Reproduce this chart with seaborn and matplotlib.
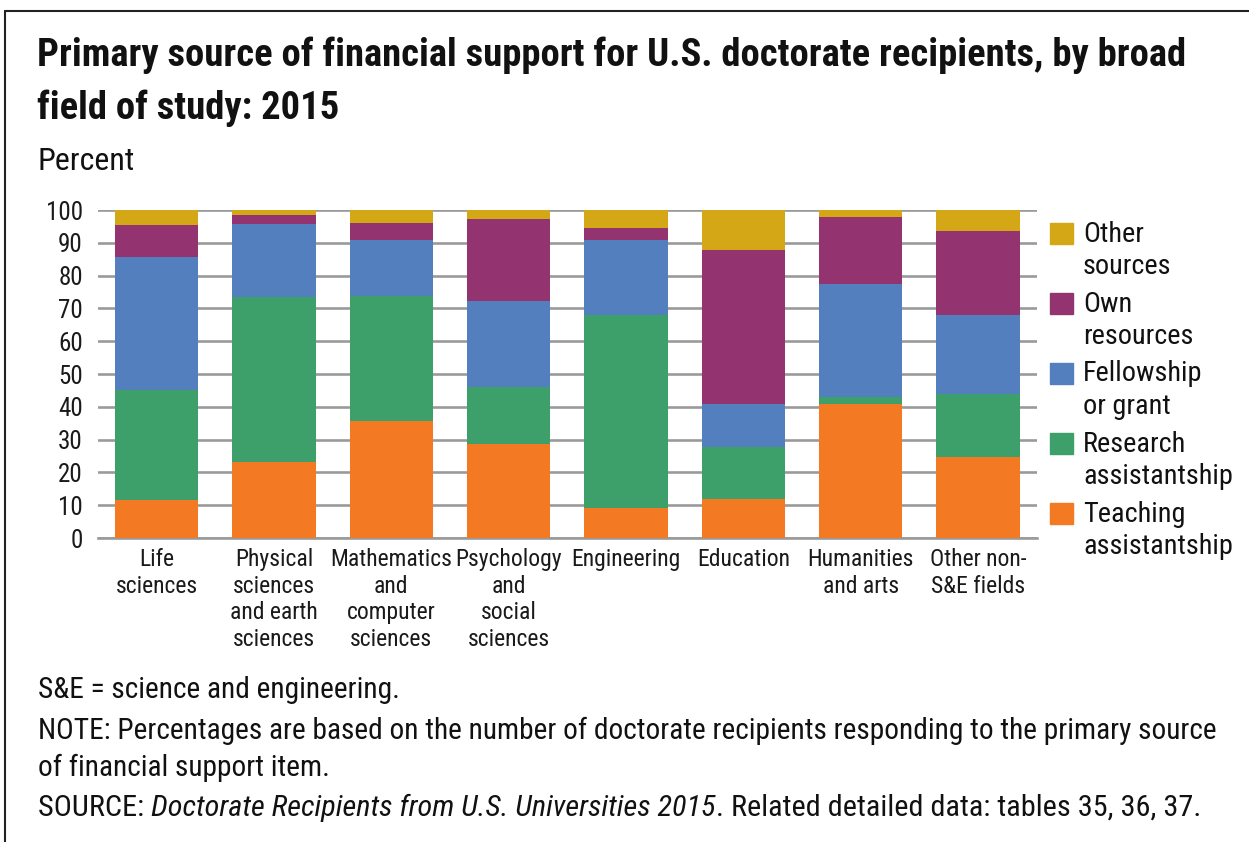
import matplotlib
matplotlib.use("Agg")
import matplotlib.pyplot as plt
from matplotlib.patches import Rectangle
from matplotlib.lines import Line2D
import seaborn as sns
import pandas as pd
import numpy as np

categories = ["Life\nsciences", "Physical\nsciences\nand earth\nsciences",
              "Mathematics\nand\ncomputer\nsciences", "Psychology\nand\nsocial\nsciences",
              "Engineering", "Education", "Humanities\nand arts", "Other non-\nS&E fields"]
teaching = [11.7, 23.2, 35.8, 28.7, 9.2, 12.0, 40.9, 24.8]
research = [33.5, 50.2, 38.1, 17.4, 58.8, 15.9, 2.1, 19.2]
fellowship = [40.4, 22.5, 16.9, 26.3, 22.9, 13.0, 34.6, 24.0]
own = [9.7, 2.5, 5.3, 24.9, 3.6, 46.9, 20.4, 25.6]
other = [4.7, 1.6, 3.9, 2.7, 5.5, 12.2, 2.0, 6.4]
series_first = ["Teaching", "Research", "Fellowship", "Own", "Other"]
series_second = ["assistantship", "assistantship", "or grant", "resources", "sources"]
colors = ["#F37A22", "#3D9F69", "#537FBF", "#933470", "#D4A716"]
yticks = [0, 10, 20, 30, 40, 50, 60, 70, 80, 90, 100]

sns.set_theme(style="white")
FONT = ["Roboto Condensed", "DejaVu Sans"]
plt.rcParams["font.family"] = FONT

fig = plt.figure(figsize=(12.49, 8.42), dpi=100)
ax = fig.add_axes([0.0785, 0.361, 0.7515, 0.3895])

series = [teaching, research, fellowship, own, other]
cum = np.cumsum(np.array(series), axis=0)
# draw from top layer down so lower layers overlay
for i in range(len(series) - 1, -1, -1):
    df = pd.DataFrame({"cat": categories, "val": cum[i]})
    sns.barplot(data=df, x="cat", y="val", color=colors[i], saturation=1,
                width=0.71, linewidth=0, ax=ax, zorder=3)

ax.set_xlim(-0.5, 7.5)
ax.set_ylim(0, 100)
ax.set_yticks(yticks)
ax.set_yticklabels([str(t) for t in yticks])
ax.yaxis.grid(True, color="#9a9a9a", linewidth=1.9, zorder=0)
ax.set_axisbelow(True)
for s in ["top", "right", "left"]:
    ax.spines[s].set_visible(False)
ax.spines["bottom"].set_color("#9a9a9a")
ax.spines["bottom"].set_linewidth(1.9)
ax.set_xlabel("")
ax.set_ylabel("")
ax.tick_params(axis="y", length=0, pad=11, labelsize=18, colors="#1a1a1a")
ax.tick_params(axis="x", length=0, pad=7, labelsize=17, colors="#1a1a1a")
for lab in ax.get_xticklabels():
    lab.set_linespacing(1.21)
    lab.set_family(FONT)
for lab in ax.get_yticklabels():
    lab.set_family(FONT)

W, H = 1249, 842
def fx(x): return x / W
def fy(y): return 1 - y / H

# Title
fig.text(fx(37), fy(55), "Primary source of financial support for U.S. doctorate recipients, by broad",
         fontsize=27.8, fontweight="bold", va="center", ha="left", color="#111111")
fig.text(fx(37), fy(108), "field of study: 2015",
         fontsize=27.8, fontweight="bold", va="center", ha="left", color="#111111")
fig.text(fx(37), fy(162), "Percent", fontsize=23, va="center", ha="left", color="#111111")

# Legend
for k, i in enumerate([4, 3, 2, 1, 0]):
    y0 = 234 + 70 * k
    fig.patches.append(Rectangle((fx(1050), fy(y0 + 10)), 23 / W, 21 / H,
                                 transform=fig.transFigure, color=colors[i], figure=fig))
    fig.text(fx(1083), fy(y0), series_first[i], fontsize=20.3, va="center", ha="left", color="#111111")
    fig.text(fx(1083), fy(y0 + 32), series_second[i], fontsize=20.3, va="center", ha="left", color="#111111")

# Footnotes
FS = 21.2
fig.text(fx(38), fy(690), "S&E = science and engineering.", fontsize=FS, va="center", ha="left", color="#111111")
fig.text(fx(38), fy(731), "NOTE: Percentages are based on the number of doctorate recipients responding to the primary source",
         fontsize=FS, va="center", ha="left", color="#111111")
fig.text(fx(38), fy(768), "of financial support item.", fontsize=FS, va="center", ha="left", color="#111111")
FS2 = 21.8
t1 = fig.text(fx(38), fy(808), "SOURCE: ", fontsize=FS2, va="center", ha="left", color="#111111")
fig.canvas.draw()
r = fig.canvas.get_renderer()
bb = t1.get_window_extent(r)
t2 = fig.text(bb.x1 / W, fy(808), "Doctorate Recipients from U.S. Universities 2015",
              fontsize=FS2, va="center", ha="left", style="italic", color="#111111")
bb2 = t2.get_window_extent(r)
fig.text(bb2.x1 / W, fy(808), ". Related detailed data: tables 35, 36, 37.",
         fontsize=FS2, va="center", ha="left", color="#111111")

# Frame lines
fig.add_artist(Line2D([fx(5), 1], [fy(11), fy(11)], color="#222222", linewidth=1.5, transform=fig.transFigure))
fig.add_artist(Line2D([fx(5), fx(5)], [fy(11), 0], color="#222222", linewidth=1.5, transform=fig.transFigure))

fig.savefig("out.png", dpi=100)
